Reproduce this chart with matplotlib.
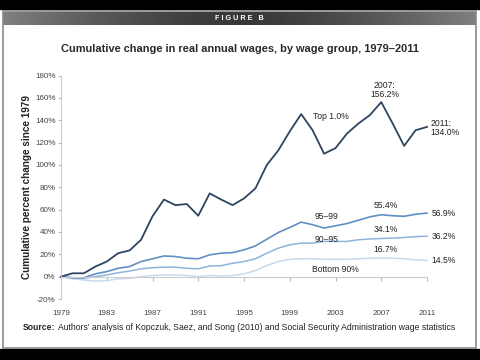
#!/usr/bin/env python3

import matplotlib
matplotlib.use('Agg')
import matplotlib.pyplot as plt
from matplotlib.patches import Rectangle
import numpy as np

years = list(range(1979, 2012))

# cumulative percent change since 1979
top1 = [0, 3, 3, 9, 13.5, 21, 23.5, 33, 54, 69, 64, 65, 54.5, 74.5, 69, 64,
        70, 79, 100, 113, 130, 145.5, 131, 110, 115, 128, 137, 144.5, 156.2,
        137, 117, 131, 134.0]
p95_99 = [0, -1, -1, 2.5, 4.5, 7.5, 9, 13.5, 16, 18.5, 18, 16.5, 16, 19.5, 21,
          21.5, 24, 27.5, 33.5, 39.5, 44, 48.8, 46.5, 43.5, 45.5, 47.5, 50.5,
          53.5, 55.4, 54.5, 54, 55.8, 56.9]
p90_95 = [0, -1, -1.5, 0, 1.5, 3.5, 5, 7, 8, 8.5, 8.5, 7.5, 7, 9.5, 9.8, 12,
          13.5, 16, 21, 25.5, 28.5, 30, 30, 31.5, 31.5, 31.5, 33, 33.7, 34.1,
          34.5, 35, 35.8, 36.2]
bottom90 = [0, -2, -3, -4, -3.5, -2, -1.5, 0, 1, 1.5, 1.5, 1, 0, 1, 0.5, 1,
            2.5, 5.5, 10, 13.5, 15.5, 16, 16, 15.5, 15.5, 15.5, 16, 16.5, 16.7,
            16.5, 16, 15, 14.5]

yticks = list(range(-20, 181, 20))
xticks = list(range(1979, 2012, 4))

TXT = '#222222'
FONT = 'Liberation Sans'


def main():
    fig = plt.figure(figsize=(4.8, 3.6), dpi=100)
    W, H = 480, 360

    # black letterbox bars and the gray frame
    fig.patches.append(Rectangle((0, 1 - 9 / H), 1, 9 / H, transform=fig.transFigure,
                                 color='black', zorder=0))
    fig.patches.append(Rectangle((0, 0), 1, 11 / H, transform=fig.transFigure,
                                 color='black', zorder=0))
    fig.patches.append(Rectangle((3 / W, 12 / H), 473 / W, 337 / H, transform=fig.transFigure,
                                 fill=False, edgecolor='#8a8a8a', lw=1.2, zorder=1))

    # header bar with gradient
    hax = fig.add_axes([3 / W, 1 - 25 / H, 473 / W, 13 / H])
    g = np.linspace(-1, 1, 256)
    shade = 0.50 - 0.28 * (1 - np.abs(g) ** 1.5)
    hax.imshow(shade[None, :], cmap='gray', vmin=0, vmax=1, aspect='auto',
               extent=[0, 1, 0, 1])
    hax.set_axis_off()
    hax.text(0.5, 0.5, 'F I G U R E   B', color='white', fontsize=5.2, fontweight='bold',
             ha='center', va='center', family=FONT)

    fig.text(0.5, 1 - 49 / H, 'Cumulative change in real annual wages, by wage group, 1979\u20132011',
             ha='center', va='center', fontsize=7.9, fontweight='bold', color='#2a2a2a',
             family=FONT)

    ax = fig.add_axes([61 / W, 1 - 299 / H, 366 / W, 223.5 / H])
    ax.plot(years, bottom90, color='#c9d9ec', lw=1.1, clip_on=False)
    ax.plot(years, p90_95, color='#8fb4de', lw=1.1, clip_on=False)
    ax.plot(years, p95_99, color='#5f8fc5', lw=1.2, clip_on=False)
    ax.plot(years, top1, color='#2e4560', lw=1.3, clip_on=False)

    ax.set_xlim(1979, 2011)
    ax.set_ylim(-20, 180)
    ax.set_yticks(yticks)
    ax.set_yticklabels([f'{v}%' for v in yticks], fontsize=5.8, color='#444444', family=FONT)
    ax.set_xticks(xticks)
    ax.tick_params(axis='x', length=3, color='#bbbbbb', labelbottom=False)
    ax.tick_params(axis='y', length=2, color='#bbbbbb', pad=2)
    for s in ['top', 'right']:
        ax.spines[s].set_visible(False)
    ax.spines['left'].set_color('#cccccc')
    ax.spines['bottom'].set_color('#cccccc')
    ax.spines['bottom'].set_position(('data', 0))

    sec = ax.secondary_xaxis(0)
    sec.set_xticks(xticks)
    sec.set_xticklabels([str(v) for v in xticks], fontsize=5.8, color='#444444', family=FONT)
    sec.tick_params(length=0, pad=8)
    sec.spines['bottom'].set_visible(False)

    ax.set_ylabel('Cumulative percent change since 1979', fontsize=7.2, fontweight='bold',
                  color=TXT, family=FONT, labelpad=2)

    kw = dict(fontsize=6.2, color=TXT, family=FONT, va='center')
    ax.text(2001.0, 143, 'Top 1.0%', ha='left', **kw)
    ax.text(2007.3, 167, '2007:\n156.2%', ha='center', linespacing=1.1, **kw)
    ax.text(2011.3, 133, '2011:\n134.0%', ha='left', linespacing=1.1, **kw)
    ax.text(2007.4, 63.5, '55.4%', ha='center', **kw)
    ax.text(2002.2, 54, '95\u201399', ha='center', **kw)
    ax.text(2011.4, 56.5, '56.9%', ha='left', **kw)
    ax.text(2007.4, 42, '34.1%', ha='center', **kw)
    ax.text(2002.2, 33.5, '90\u201395', ha='center', **kw)
    ax.text(2011.4, 36, '36.2%', ha='left', **kw)
    ax.text(2007.4, 24, '16.7%', ha='center', **kw)
    ax.text(2011.4, 14.3, '14.5%', ha='left', **kw)
    ax.text(2003.0, 6, 'Bottom 90%', ha='center', **kw)

    # source line: bold lead-in followed by regular text
    fig.canvas.draw()
    r = fig.canvas.get_renderer()
    t1 = fig.text(23 / W, 1 - 328 / H, 'Source:', fontsize=6.2, fontweight='bold',
                  color=TXT, family=FONT, va='center')
    bb = t1.get_window_extent(r)
    fig.text(bb.x1 / W + 2 / W, 1 - 328 / H,
             "Authors' analysis of Kopczuk, Saez, and Song (2010) and Social Security Administration wage statistics",
             fontsize=6.2, color=TXT, family=FONT, va='center')

    fig.savefig('out.png', dpi=100)


if __name__ == '__main__':
    main()
